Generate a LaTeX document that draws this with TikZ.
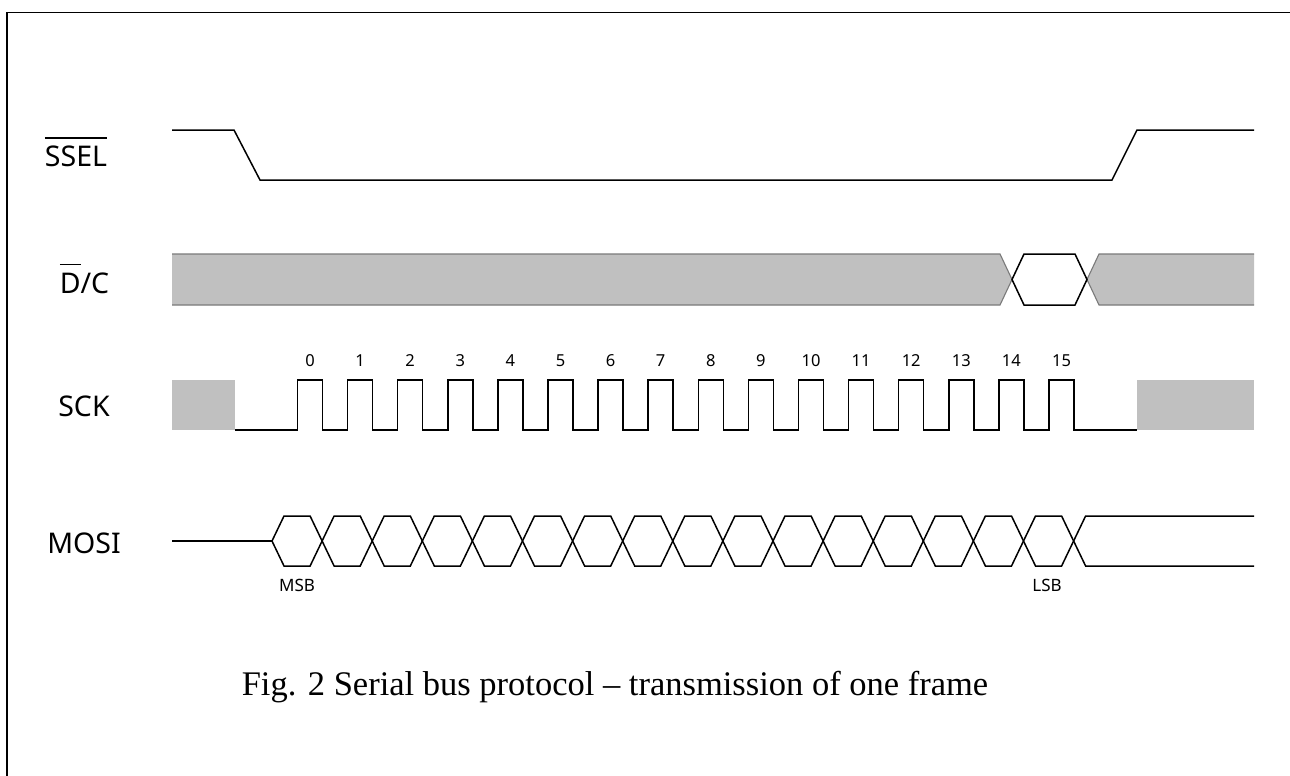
\documentclass[tikz,border=0pt]{standalone}
\usepackage{fontspec}
\setmainfont{Liberation Serif}
\newfontfamily\lblfont{Noto Sans}
\definecolor{busgray}{HTML}{C0C0C0}
\definecolor{edgegray}{HTML}{7A7A7A}
\newlength\ovw
\newcommand\ovtext[1]{\settowidth\ovw{#1}\rlap{\rule[0.98em]{\ovw}{1.8pt}}#1}
\begin{document}
\begin{tikzpicture}[x=1pt,y=-1pt,
  sig/.style={line width=1.5pt,line join=miter},
  bus/.style={fill=busgray,draw=none},
  busedge/.style={draw=edgegray,line width=1.1pt},
  siglbl/.style={font=\lblfont\fontsize{28.5}{31}\selectfont,anchor=base,inner sep=0pt},
  numlbl/.style={font=\lblfont\fontsize{16.5}{18}\selectfont,anchor=base,inner sep=0pt},
  bitlbl/.style={font=\lblfont\fontsize{17}{19}\selectfont,anchor=base,inner sep=0pt},
  captext/.style={font=\fontsize{34.5}{38}\selectfont,anchor=base,inner sep=0pt}]
\useasboundingbox (0,0) rectangle (1290,776);
% frame lines
\draw[line width=1.4pt] (7,776) -- (7,12.3) -- (1290,12.3);
% labels
\node[siglbl] (lssel) at (76,166.7) {\ovtext{SSEL}};
\node[siglbl] (ldc) at (84.5,293.3) {\ovtext{D}/C};
\node[siglbl] (lsck) at (84,416.7) {SCK};
\node[siglbl] (lmosi) at (84,553) {MOSI};
% SSEL
\draw[sig] (172,130) -- (234,130) -- (260,180) -- (1112,180) -- (1137,130) -- (1254,130);
% D/C
\fill[bus] (172,254) -- (1000,254) -- (1012,279.5) -- (1000,305) -- (172,305) -- cycle;
\draw[busedge] (172,254) -- (1000,254) -- (1012,279.5) -- (1000,305) -- (172,305);
\fill[bus] (1254,254) -- (1099,254) -- (1087,279.5) -- (1099,305) -- (1254,305) -- cycle;
\draw[busedge] (1254,254) -- (1099,254) -- (1087,279.5) -- (1099,305) -- (1254,305);
\draw[sig] (1012,279.5) -- (1024,254) -- (1075,254) -- (1087,279.5) -- (1075,305) -- (1024,305) -- cycle;
% SCK
\fill[bus] (172,380) rectangle (235,430);
\fill[bus] (1137,380) rectangle (1254,430);
\draw[sig] (235,430)
  foreach \k in {0,...,15}{ -- ({297.5+50.1*\k},430) -- ({297.5+50.1*\k},380) -- ({322.5+50.1*\k},380) -- ({322.5+50.1*\k},430) }
  -- (1137,430);
\foreach \k in {0,...,15}
  \node[numlbl] (n\k) at ({310+50.1*\k},366.7) {\k};
% MOSI
\draw[sig] (172,541) -- (272,541);
\foreach \k in {0,...,15}
  \draw[sig] ({272+50.1*\k},541) -- ({284+50.1*\k},516) -- ({310.1+50.1*\k},516) -- ({322.1+50.1*\k},541) -- ({310.1+50.1*\k},566) -- ({284+50.1*\k},566) -- cycle;
\draw[sig] (1254,516) -- (1085.6,516) -- (1073.6,541) -- (1085.6,566) -- (1254,566);
\node[bitlbl] (msb) at (297,591.7) {MSB};
\node[bitlbl] (lsb) at (1047,591.7) {LSB};
% caption
\node[captext] (caption) at (615,695) {Fig. 2 Serial bus protocol -- transmission of one frame};
\end{tikzpicture}
\end{document}
